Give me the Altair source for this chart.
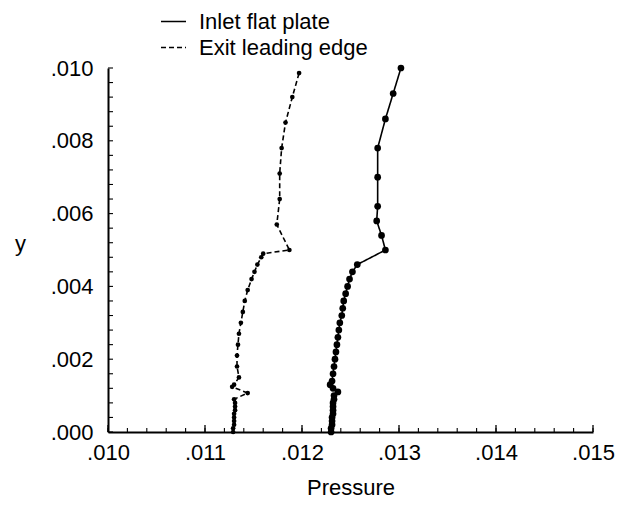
import altair as alt
import pandas as pd

series_names = ["Inlet flat plate", "Exit leading edge"]

inlet_y = [0.0000, 0.0001, 0.0002, 0.0003, 0.0004, 0.0005, 0.0006, 0.0007, 0.0008,
           0.0009, 0.0010, 0.0011, 0.0012, 0.0013, 0.0014, 0.0016, 0.0018, 0.0020,
           0.0022, 0.0024, 0.0026, 0.0028, 0.0030, 0.0032, 0.0034, 0.0036, 0.0038,
           0.0040, 0.0042, 0.0044, 0.0046, 0.0050, 0.0054, 0.0058, 0.0062, 0.0070,
           0.0078, 0.0086, 0.0093, 0.0100]
inlet_pressure = [0.01230, 0.01230, 0.01231, 0.01231, 0.01231, 0.01232, 0.01232, 0.01232,
                  0.01232, 0.01233, 0.01233, 0.01237, 0.01232, 0.01229, 0.01231, 0.01232,
                  0.01233, 0.01234, 0.01235, 0.01236, 0.01237, 0.01238, 0.01239, 0.01241,
                  0.01242, 0.01243, 0.01245, 0.01247, 0.01249, 0.01252, 0.01257, 0.01286,
                  0.01282, 0.01277, 0.01278, 0.01278, 0.01278, 0.01286, 0.01294, 0.01302]

exit_y = [0.0000, 0.0001, 0.0002, 0.0003, 0.0004, 0.0005, 0.0006, 0.0007, 0.0008, 0.0009,
          0.00107, 0.00124, 0.0013, 0.0015, 0.0018, 0.0021, 0.0024, 0.0027, 0.0030, 0.0033,
          0.0036, 0.0039, 0.0042, 0.0044, 0.0046, 0.0048, 0.0049, 0.0050, 0.0057, 0.0064,
          0.0071, 0.0078, 0.0085, 0.0092, 0.00986]
exit_pressure = [0.01129, 0.01129, 0.01130, 0.01130, 0.01130, 0.01130, 0.01131, 0.01131,
                 0.01131, 0.01130, 0.01144, 0.01128, 0.01130, 0.01135, 0.01133, 0.01133,
                 0.01134, 0.01135, 0.01137, 0.01139, 0.01141, 0.01144, 0.01148, 0.01151,
                 0.01154, 0.01158, 0.01160, 0.01187, 0.01174, 0.01177, 0.01177, 0.01179,
                 0.01183, 0.01190, 0.01197]

x_tick_labels = [0.010, 0.011, 0.012, 0.013, 0.014, 0.015]
y_tick_labels = [0.000, 0.002, 0.004, 0.006, 0.008, 0.010]
x_minor_ticks = [round(0.010 + 0.0002 * i, 5) for i in range(26)]
y_minor_ticks = [round(0.0004 * i, 5) for i in range(26)]

rows = []
for i, (p, yv) in enumerate(zip(inlet_pressure, inlet_y)):
    rows.append({"series": series_names[0], "pressure": p, "y": yv, "idx": i})
for i, (p, yv) in enumerate(zip(exit_pressure, exit_y)):
    rows.append({"series": series_names[1], "pressure": p, "y": yv, "idx": i})
df = pd.DataFrame(rows)

FONT = "Liberation Sans"
xscale = alt.Scale(domain=[0.010, 0.015], nice=False, zero=False)
yscale = alt.Scale(domain=[0.0, 0.010], nice=False, zero=False)
label_expr = "replace(format(datum.value, '.3f'), '0.', '.')"

x_axis = alt.Axis(values=x_tick_labels, labelExpr=label_expr, title="Pressure",
                  titleFont=FONT, titleFontSize=22, titleFontWeight="normal",
                  titleColor="black", titleY=62, titleBaseline="alphabetic",
                  labelFont=FONT, labelFontSize=22, labelColor="black", labelPadding=10,
                  labelFlush=False, labelOverlap=False,
                  ticks=False, domainColor="black", domainWidth=2, grid=False)
y_axis = alt.Axis(values=y_tick_labels, labelExpr=label_expr, title="y",
                  titleFont=FONT, titleFontSize=22, titleFontWeight="normal",
                  titleColor="black", titleAngle=0, titleX=-88, titleY=182,
                  titleAlign="center", titleBaseline="alphabetic",
                  labelFont=FONT, labelFontSize=22, labelColor="black", labelPadding=15,
                  labelFlush=False, labelOverlap=False,
                  ticks=False, domainColor="black", domainWidth=2, grid=False)

base = alt.Chart(df)

lines = base.mark_line(color="black", strokeWidth=1.6).encode(
    x=alt.X("pressure:Q", scale=xscale, axis=x_axis),
    y=alt.Y("y:Q", scale=yscale, axis=y_axis),
    strokeDash=alt.StrokeDash(
        "series:N",
        scale=alt.Scale(domain=series_names, range=[[1, 0], [5, 3]]),
        legend=alt.Legend(orient="none", legendX=52, legendY=-60, title=None,
                          symbolType="stroke", symbolSize=625, symbolStrokeWidth=1.6,
                          symbolStrokeColor="black", labelFont=FONT, labelFontSize=22,
                          labelColor="black", labelOffset=12, rowPadding=1, padding=0,
                          labelLimit=400),
    ),
    detail="series:N",
    order="idx:Q",
)

inlet_pts = base.transform_filter(alt.datum.series == series_names[0]).mark_circle(
    color="black", opacity=1, size=45
).encode(x=alt.X("pressure:Q", scale=xscale, axis=x_axis),
         y=alt.Y("y:Q", scale=yscale, axis=y_axis))

exit_pts = base.transform_filter(alt.datum.series == series_names[1]).mark_circle(
    color="black", opacity=1, size=22
).encode(x=alt.X("pressure:Q", scale=xscale, axis=x_axis),
         y=alt.Y("y:Q", scale=yscale, axis=y_axis))

x_major = alt.Chart(pd.DataFrame({"pressure": x_tick_labels})).mark_rule(
    color="black", strokeWidth=1.3, y2Offset=-7
).encode(
    x=alt.X("pressure:Q", scale=xscale, axis=x_axis),
    y=alt.YDatum(0.0, scale=yscale, axis=y_axis),
    y2=alt.Y2Datum(0.0),
)
x_minor = alt.Chart(pd.DataFrame({"pressure": x_minor_ticks})).mark_rule(
    color="black", strokeWidth=1.1, y2Offset=-4
).encode(
    x=alt.X("pressure:Q", scale=xscale, axis=x_axis),
    y=alt.YDatum(0.0, scale=yscale, axis=y_axis),
    y2=alt.Y2Datum(0.0),
)
y_minor = alt.Chart(pd.DataFrame({"y": y_minor_ticks})).mark_rule(
    color="black", strokeWidth=1.1, x2Offset=5
).encode(
    y=alt.Y("y:Q", scale=yscale, axis=y_axis),
    x=alt.XDatum(0.010, scale=xscale, axis=x_axis),
    x2=alt.X2Datum(0.010),
)

chart = alt.layer(lines, x_minor, x_major, y_minor, inlet_pts, exit_pts).properties(
    width=485,
    height=364,
    padding={"left": 100, "top": 60, "right": 25, "bottom": 68},
    autosize=alt.AutoSizeParams(type="none"),
).configure_view(stroke=None)

chart.save("out.html", embed_options={"renderer": "svg", "actions": False})
